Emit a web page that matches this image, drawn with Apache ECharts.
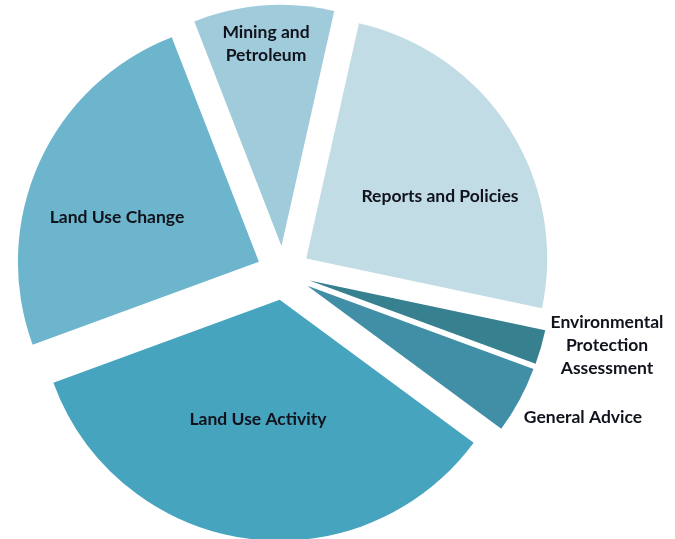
<!DOCTYPE html>
<html>
<head>
<meta charset="utf-8">
<script src="https://cdn.jsdelivr.net/npm/echarts@6/dist/echarts.min.js"></script>
<style>
  html, body { margin: 0; padding: 0; background: #fff; }
  #chart { width: 675px; height: 539px; }
</style>
</head>
<body>
<div id="chart"></div>
<script>
// slices, clockwise from the top
const names = ['Mining and\nPetroleum', 'Reports and Policies', 'Environmental\nProtection\nAssessment', 'General Advice', 'Land Use Activity', 'Land Use Change']
const values = [9.4, 24.8, 2.3, 4.5, 34.3, 24.7]
const colors = ['#a0cbdb', '#c2dce5', '#37808f', '#418fa6', '#47a4bf', '#6cb5cc']

// where each label sits (px)
const labelSpots = [[266, 44], [440, 196], [607, 345], [583, 417], [258, 419], [117, 217]]

const chart = echarts.init(document.getElementById('chart'))

const pieBase = {
  type: 'pie',
  center: [283.5, 273],
  radius: 241,
  startAngle: 111.2,
  clockwise: true,
  silent: true,
  labelLine: { show: false },
  emphasis: { disabled: true }
}

chart.setOption({
  animation: false,
  series: [
    {
      ...pieBase,
      selectedMode: 'multiple',
      selectedOffset: 27,
      label: { show: false },
      data: names.map((n, i) => ({
        name: n,
        value: values[i],
        selected: true,
        itemStyle: { color: colors[i] },
        select: { itemStyle: { color: colors[i] } }
      }))
    },
    {
      // label layer, not exploded
      ...pieBase,
      itemStyle: { color: 'rgba(0,0,0,0)' },
      label: {
        show: true,
        position: 'inside',
        color: '#10131c',
        fontFamily: 'Lato',
        fontWeight: 'bold',
        fontSize: 17.5,
        lineHeight: 23,
        align: 'center'
      },
      labelLayout: function(params) {
        const p = labelSpots[params.dataIndex]
        return { x: p[0], y: p[1], align: 'center', verticalAlign: 'middle' }
      },
      data: names.map((n, i) => ({ name: n, value: values[i] }))
    }
  ]
})
</script>
</body>
</html>
